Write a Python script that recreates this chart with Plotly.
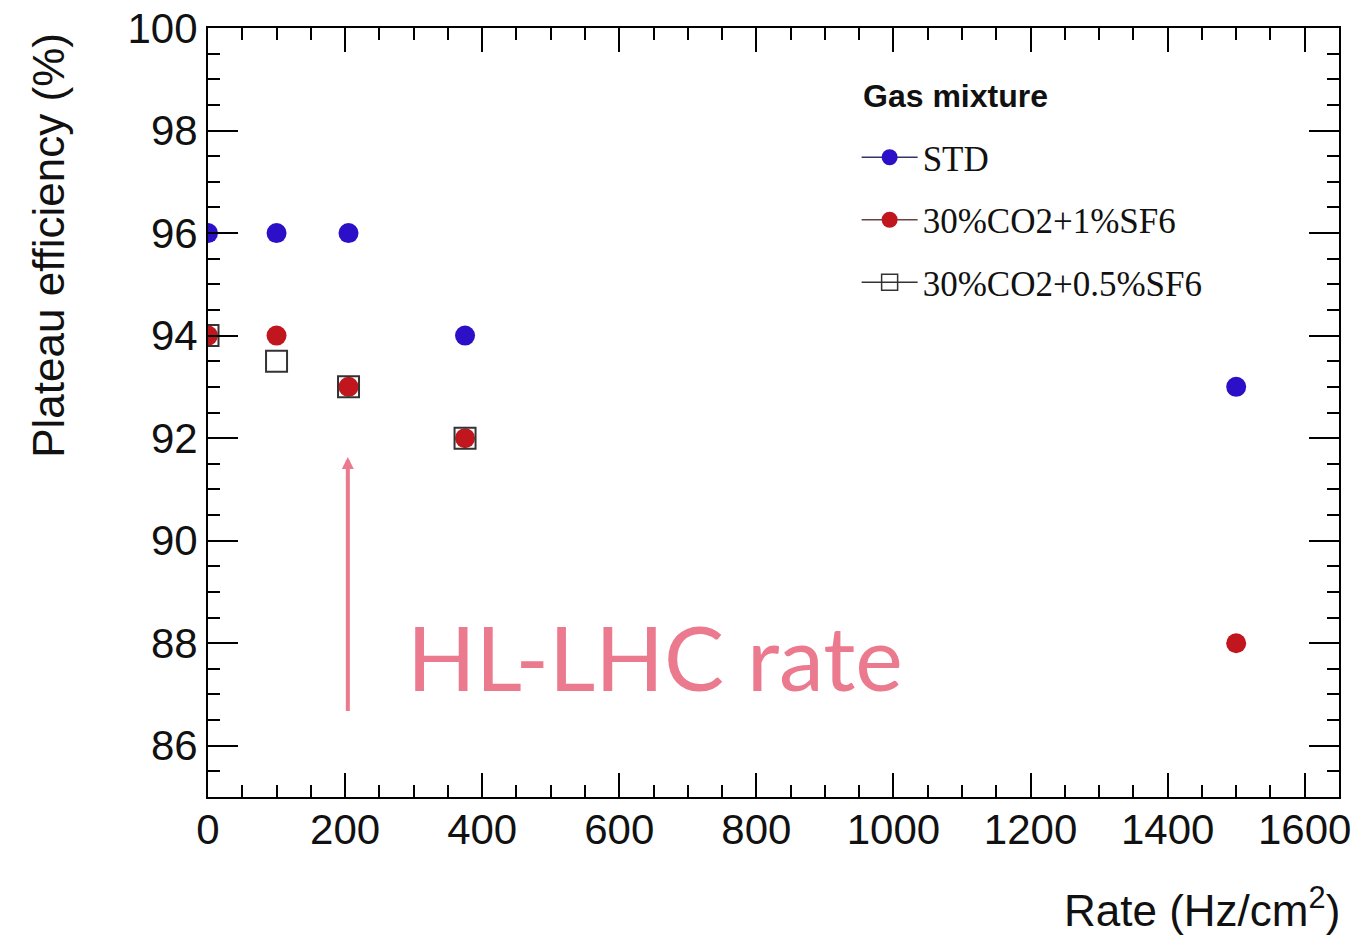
import plotly.graph_objects as go

# ---- data ----
rate_std = [0, 100, 205, 375, 1500]
eff_std = [96, 96, 96, 94, 93]

rate_co2_1 = [0, 100, 205, 375, 1500]
eff_co2_1 = [94, 94, 93, 92, 88]

rate_co2_05 = [0, 100, 205, 375]
eff_co2_05 = [94, 93.5, 93, 92]

series_names = ["STD", "30%CO2+1%SF6", "30%CO2+0.5%SF6"]
legend_title = "Gas mixture"
x_ticks = [0, 200, 400, 600, 800, 1000, 1200, 1400, 1600]
y_ticks = [86, 88, 90, 92, 94, 96, 98, 100]

BLUE = "#2c10c8"
RED = "#c2161f"
PINK = "#ec7a8f"

fig = go.Figure()

# plotted points (no legend)
fig.add_trace(go.Scatter(x=rate_std, y=eff_std, mode="markers", showlegend=False,
                         marker=dict(symbol="circle", size=20, color=BLUE)))
fig.add_trace(go.Scatter(x=rate_co2_1, y=eff_co2_1, mode="markers", showlegend=False,
                         marker=dict(symbol="circle", size=20, color=RED)))
fig.add_trace(go.Scatter(x=rate_co2_05, y=eff_co2_05, mode="markers", showlegend=False,
                         marker=dict(symbol="square-open", size=21, color="#333333",
                                     line=dict(width=2))))

# legend entries (ROOT "lp" style)
fig.add_trace(go.Scatter(x=[None], y=[None], mode="lines+markers", name=series_names[0],
                         legendgroup="a",
                         line=dict(color="#333366", width=1.5),
                         marker=dict(symbol="circle", size=16, color=BLUE)))
fig.add_trace(go.Scatter(x=[None], y=[None], mode="lines+markers", name=series_names[1],
                         legendgroup="b",
                         line=dict(color="#664444", width=1.5),
                         marker=dict(symbol="circle", size=16, color=RED)))
fig.add_trace(go.Scatter(x=[None], y=[None], mode="lines+markers", name=series_names[2],
                         legendgroup="c",
                         line=dict(color="#333333", width=1.5),
                         marker=dict(symbol="square-open", size=16, color="#333333",
                                     line=dict(width=1.5))))

axis_common = dict(
    showline=True, linecolor="black", linewidth=2, mirror="allticks",
    ticks="inside", tickcolor="black", tickwidth=2,
    showgrid=False, zeroline=False, automargin=False,
    tickfont=dict(family="Liberation Sans, Arial, sans-serif", size=42, color="#111111"),
)

fig.update_xaxes(range=[0, 1650], tickvals=x_ticks, ticklen=24, ticklabelstandoff=-5,
                 minor=dict(ticks="inside", dtick=50, tick0=0, ticklen=12,
                            tickcolor="black", tickwidth=1.5),
                 **axis_common)
fig.update_yaxes(range=[85, 100], tickvals=y_ticks, ticklen=30,
                 minor=dict(ticks="inside", dtick=0.5, tick0=85, ticklen=12,
                            tickcolor="black", tickwidth=1.5),
                 **axis_common)

fig.update_layout(
    width=1352, height=936,
    margin=dict(l=208, r=13, t=28, b=139),
    paper_bgcolor="white", plot_bgcolor="white",
    legend=dict(
        x=0.5735, y=0.870, xanchor="left", yanchor="top",
        bgcolor="rgba(255,255,255,0)",
        font=dict(family="Liberation Serif, Times New Roman, serif", size=35, color="#111111"),
        itemwidth=56, tracegroupgap=14,
        traceorder="grouped",
    ),
    annotations=[
        dict(text="<b>" + legend_title + "</b>", xref="paper", yref="paper",
             x=0.577, y=0.9116, xanchor="left", yanchor="middle", showarrow=False,
             font=dict(family="Liberation Sans, Arial, sans-serif", size=32, color="#111111")),
        dict(text="Plateau efficiency (%)", textangle=-90, xref="paper", yref="paper",
             x=-0.1406, y=0.997, xanchor="center", yanchor="top", showarrow=False,
             font=dict(family="Liberation Sans, Arial, sans-serif", size=44, color="#111111")),
        dict(text="Rate (Hz/cm<sup>2</sup>)", xref="paper", yref="paper",
             x=1.003, y=-0.144, xanchor="right", yanchor="middle", showarrow=False,
             font=dict(family="Liberation Sans, Arial, sans-serif", size=44, color="#111111")),
        dict(text="HL-LHC rate", xref="x", yref="y", x=288, y=87.75,
             xanchor="left", yanchor="middle", showarrow=False,
             font=dict(family="Lato, Open Sans, sans-serif", size=90, color=PINK)),
        dict(text="", xref="x", yref="y", x=204, y=91.63, ax=204, ay=86.65,
             axref="x", ayref="y", showarrow=True, arrowhead=2, arrowsize=0.6,
             arrowwidth=4, arrowcolor=PINK),
    ],
)

fig.write_html("out.html")
